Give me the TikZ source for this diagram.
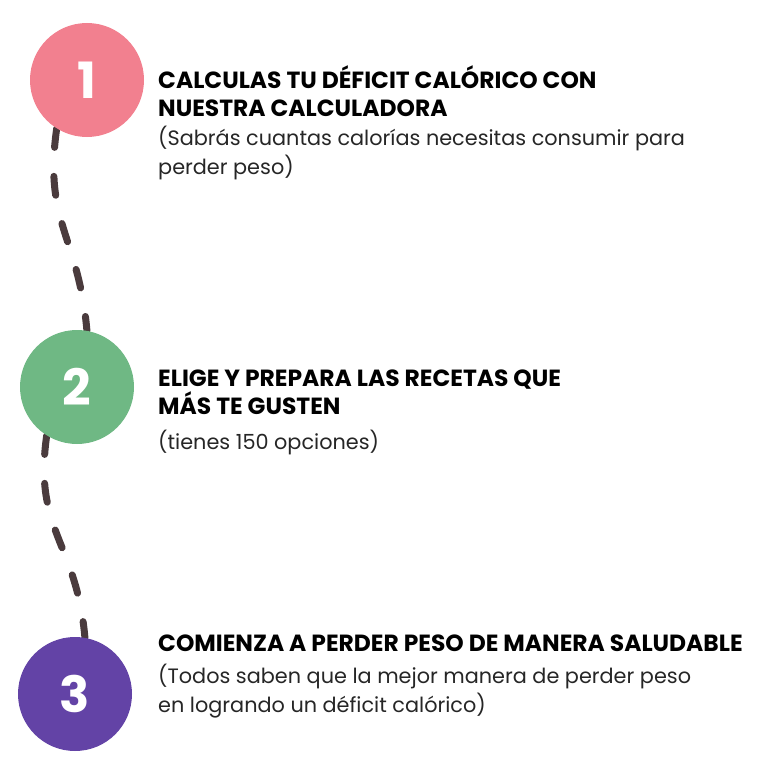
\documentclass[tikz,border=0pt]{standalone}
\usepackage{fontspec}
\setmainfont{Poppins}
\newfontfamily\headfont{Poppins}
\usepackage{tikz}
\usetikzlibrary{positioning, backgrounds}
\definecolor{stepone}{HTML}{F2808F}
\definecolor{steptwo}{HTML}{6FB884}
\definecolor{stepthree}{HTML}{6343A6}
\definecolor{trailbrown}{HTML}{4A3B3D}
\definecolor{bodytext}{HTML}{262626}
\tikzset{
    blob/.style={circle, minimum size=114pt, inner sep=0pt, text=white, font=\fontsize{50}{50}\selectfont\bfseries},
    heading/.style={anchor=base west, align=left, inner sep=0pt, font=\headfont\bfseries\fontsize{23.4}{27.5}\selectfont},
    detail/.style={anchor=base west, align=left, inner sep=0pt, text=bodytext, font=\fontsize{20.8}{28.5}\selectfont},
    trail/.style={line width=7pt, line cap=round, color=trailbrown, dash pattern=on 19pt off 29pt}
}

\begin{document}
\begin{tikzpicture}[x=1pt, y=-1pt]
    \useasboundingbox (0,0) rectangle (768,768);

    % Steps
    \node (one) [blob, fill=stepone] at (87,80) {1};
    \node (two) [blob, fill=steptwo] at (77,387) {2};
    \node (three) [blob, fill=stepthree] at (75,694) {3};

    % Headings
    \node (head1) [heading] at (158,116) {CALCULAS TU DÉFICIT CALÓRICO CON\\NUESTRA CALCULADORA};
    \node (head2) [heading] at (158,414) {ELIGE Y PREPARA LAS RECETAS QUE\\MÁS TE GUSTEN};
    \node (head3) [heading] at (158,651) {COMIENZA A PERDER PESO DE MANERA SALUDABLE};

    % Details
    \node (body1) [detail, below=58pt of head1.base west, anchor=base west] {(Sabrás cuantas calorías necesitas consumir para\\perder peso)};
    \node (body2) [detail, below=35pt of head2.base west, anchor=base west] {(tienes 150 opciones)};
    \node (body3) [detail, below=61pt of head3.base west, anchor=base west] {(Todos saben que la mejor manera de perder peso\\en logrando un déficit calórico)};

    % Trails
    \begin{scope}[on background layer]
        \draw [trail] (one.-122) to[out=-98, in=95, looseness=1.2] (two.80);
        \draw [trail] (two.-122) to[out=-98, in=95, looseness=1.2] (three.80);
    \end{scope}
\end{tikzpicture}
\end{document}
